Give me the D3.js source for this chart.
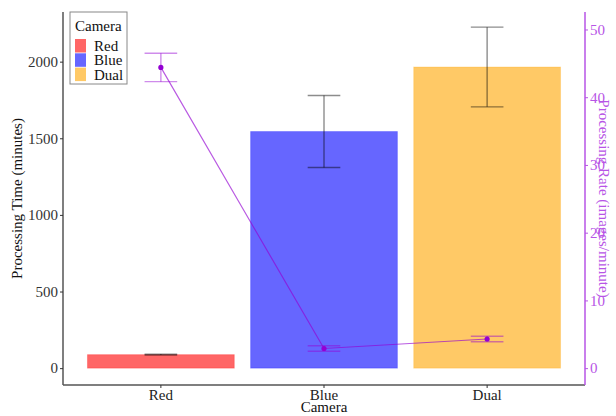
<!DOCTYPE html>
<html>
<head>
<meta charset="utf-8">
<script src="https://cdn.jsdelivr.net/npm/d3@7"></script>
<style>
  body { margin: 0; background: #fff; }
  text { font-family: "Liberation Serif", "DejaVu Serif", serif; }
</style>
</head>
<body>
<div id="chart"></div>
<script>
// camera groups and their colours
var cameras = ["Red", "Blue", "Dual"];
var colors = ["#ff0000", "#0000ff", "#ffa500"];

// processing time (minutes), mean and error
var timeMean = [88, 1544, 1965];
var timeErr = [3, 235, 260];

// processing rate (images/minute), mean and error
var rateMean = [44.4, 2.9, 4.3];
var rateErr = [2.1, 0.4, 0.4];

var timeTicks = [0, 500, 1000, 1500, 2000];
var rateTicks = [0, 10, 20, 30, 40, 50];

var width = 616, height = 416;
var pLeft = 63, pRight = 585, pTop = 12, pBottom = 385;
var coef = 44.2; // rate -> time
var violet = "#9400D3";
var axisViolet = "#b755e6";
var serif = "'Liberation Serif', 'DejaVu Serif', serif";

var svg = d3.select("#chart")
  .append("svg")
  .attr("width", width)
  .attr("height", height);

var x = d3.scaleBand()
  .domain(cameras)
  .range([pLeft, pRight])
  .paddingInner(0.1)
  .paddingOuter(0.15);

var y = d3.scaleLinear()
  .domain([-110, 2324])
  .range([pBottom, pTop]);

var yRate = d3.scaleLinear()
  .domain([-110 / coef, 2324 / coef])
  .range([pBottom, pTop]);

var color = d3.scaleOrdinal().domain(cameras).range(colors);

// bars
svg.selectAll("rect.bar")
  .data(cameras)
  .enter()
  .append("rect")
  .attr("class", "bar")
  .attr("x", function(d) { return x(d); })
  .attr("y", function(d, i) { return y(timeMean[i]); })
  .attr("width", x.bandwidth())
  .attr("height", function(d, i) { return y(0) - y(timeMean[i]); })
  .attr("fill", function(d) { return color(d); })
  .attr("fill-opacity", 0.6)
  .attr("stroke", function(d) { return color(d); })
  .attr("stroke-opacity", 0.25);

var capW = x.step() * 0.2;

function errorBar(g, cx, yTop, yBot, stroke, opacity) {
  g.append("line")
    .attr("x1", cx).attr("x2", cx).attr("y1", yTop).attr("y2", yBot);
  g.append("line")
    .attr("x1", cx - capW / 2).attr("x2", cx + capW / 2).attr("y1", yTop).attr("y2", yTop);
  g.append("line")
    .attr("x1", cx - capW / 2).attr("x2", cx + capW / 2).attr("y1", yBot).attr("y2", yBot);
  g.selectAll("line")
    .attr("stroke", stroke)
    .attr("stroke-opacity", opacity)
    .attr("stroke-width", 1.4);
}

// time error bars
cameras.forEach(function(c, i) {
  var g = svg.append("g");
  errorBar(g, x(c) + x.bandwidth() / 2,
    y(timeMean[i] + timeErr[i]), y(timeMean[i] - timeErr[i]), "#000", 0.45);
});

// rate error bars
cameras.forEach(function(c, i) {
  var g = svg.append("g");
  errorBar(g, x(c) + x.bandwidth() / 2,
    yRate(rateMean[i] + rateErr[i]), yRate(rateMean[i] - rateErr[i]), violet, 0.45);
});

// rate line + points
var line = d3.line()
  .x(function(d, i) { return x(cameras[i]) + x.bandwidth() / 2; })
  .y(function(d) { return yRate(d); });

svg.append("path")
  .datum(rateMean)
  .attr("d", line)
  .attr("fill", "none")
  .attr("stroke", violet)
  .attr("stroke-opacity", 0.65)
  .attr("stroke-width", 1.2);

svg.selectAll("circle.pt")
  .data(rateMean)
  .enter()
  .append("circle")
  .attr("class", "pt")
  .attr("cx", function(d, i) { return x(cameras[i]) + x.bandwidth() / 2; })
  .attr("cy", function(d) { return yRate(d); })
  .attr("r", 2.6)
  .attr("fill", violet);

// axes
var yAxis = svg.append("g")
  .attr("transform", "translate(" + pLeft + ",0)")
  .call(d3.axisLeft(y).tickValues(timeTicks).tickFormat(d3.format("d")).tickSize(3).tickPadding(2))
  .attr("font-family", serif)
  .attr("font-size", 15);
yAxis.select(".domain").attr("d", "M0," + pTop + "V" + pBottom).attr("stroke", "#555").attr("stroke-width", 1.5);
yAxis.selectAll(".tick line").attr("stroke", "#333");
yAxis.selectAll(".tick text").attr("fill", "#333");

var xAxis = svg.append("g")
  .attr("transform", "translate(0," + pBottom + ")")
  .call(d3.axisBottom(x).tickSize(3).tickPadding(1))
  .attr("font-family", serif)
  .attr("font-size", 15);
xAxis.select(".domain").attr("d", "M" + pLeft + ",0H" + pRight).attr("stroke", "#555").attr("stroke-width", 1.5);
xAxis.selectAll(".tick line").attr("stroke", "#333");
xAxis.selectAll(".tick text").attr("fill", "#222");

var rAxis = svg.append("g")
  .attr("transform", "translate(" + pRight + ",0)")
  .call(d3.axisRight(yRate).tickValues(rateTicks).tickFormat(d3.format("d")).tickSize(3).tickPadding(2))
  .attr("font-family", serif)
  .attr("font-size", 15);
rAxis.select(".domain").attr("d", "M0," + pTop + "V" + pBottom).attr("stroke", axisViolet).attr("stroke-width", 1.5);
rAxis.selectAll(".tick line").attr("stroke", axisViolet);
rAxis.selectAll(".tick text").attr("fill", axisViolet);

// axis titles
var midY = (pTop + pBottom) / 2;
svg.append("text")
  .attr("transform", "translate(22," + midY + ") rotate(-90)")
  .attr("text-anchor", "middle")
  .attr("font-size", 15)
  .attr("fill", "#111")
  .text("Processing Time (minutes)");

svg.append("text")
  .attr("transform", "translate(599," + midY + ") rotate(90)")
  .attr("text-anchor", "middle")
  .attr("font-size", 15)
  .attr("fill", axisViolet)
  .text("Processing Rate (images/minute)");

svg.append("text")
  .attr("x", (pLeft + pRight) / 2)
  .attr("y", 412)
  .attr("text-anchor", "middle")
  .attr("font-size", 15)
  .attr("fill", "#111")
  .text("Camera");

// legend
var legend = svg.append("g").attr("transform", "translate(70,12)");
legend.append("rect")
  .attr("width", 57).attr("height", 72)
  .attr("fill", "#fff").attr("stroke", "#888").attr("stroke-width", 1);
legend.append("text")
  .attr("x", 5).attr("y", 19)
  .attr("font-size", 15).attr("fill", "#111")
  .text("Camera");
var items = legend.selectAll("g.item")
  .data(cameras)
  .enter()
  .append("g")
  .attr("class", "item")
  .attr("transform", function(d, i) { return "translate(5," + (27 + i * 14.3) + ")"; });
items.append("rect")
  .attr("width", 11).attr("height", 13.5)
  .attr("fill", function(d) { return color(d); })
  .attr("fill-opacity", 0.6);
items.append("text")
  .attr("x", 19).attr("y", 12)
  .attr("font-size", 15).attr("fill", "#111")
  .text(function(d) { return d; });
</script>
</body>
</html>
